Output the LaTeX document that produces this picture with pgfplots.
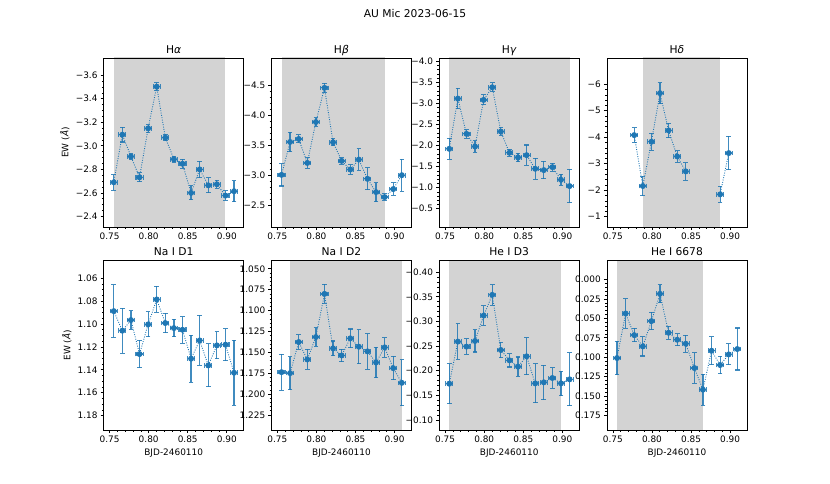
\documentclass[border=0pt]{standalone}
\usepackage{fontspec}
\setmainfont{DejaVu Sans}
\usepackage{pgfplots}
\pgfplotsset{compat=1.18}
\usepackage{pgfplotstable}

\definecolor{c0}{HTML}{1F77B4}
\definecolor{spangray}{HTML}{D3D3D3}
\newcommand\tl[1]{\mbox{#1}}
\newcommand\mn{\symbol{"2212}}

% EW time series, x = BJD-2460110
\pgfplotstableread{
x y ex ey
0.7553 -2.690 0.0045 0.066
0.7663 -3.094 0.0045 0.062
0.7773 -2.909 0.0045 0.025
0.7883 -2.732 0.0045 0.038
0.7993 -3.148 0.0045 0.032
0.8103 -3.502 0.0045 0.032
0.8213 -3.069 0.0045 0.027
0.8323 -2.886 0.0045 0.024
0.8433 -2.847 0.0045 0.039
0.8543 -2.600 0.0045 0.060
0.8653 -2.799 0.0045 0.069
0.8763 -2.664 0.0045 0.063
0.8873 -2.673 0.0045 0.034
0.8983 -2.577 0.0045 0.040
0.9093 -2.614 0.0045 0.088
}\halpha

\pgfplotstableread{
x y ex ey
0.7553 -3.005 0.0045 0.186
0.7663 -3.556 0.0045 0.164
0.7773 -3.606 0.0045 0.067
0.7883 -3.205 0.0045 0.086
0.7993 -3.889 0.0045 0.072
0.8103 -4.461 0.0045 0.078
0.8213 -3.550 0.0045 0.061
0.8323 -3.239 0.0045 0.056
0.8433 -3.094 0.0045 0.081
0.8543 -3.261 0.0045 0.178
0.8653 -2.939 0.0045 0.183
0.8763 -2.717 0.0045 0.158
0.8873 -2.633 0.0045 0.056
0.8983 -2.767 0.0045 0.106
0.9093 -3.000 0.0045 0.267
}\hbeta

\pgfplotstableread{
x y ex ey
0.7553 -1.922 0.0045 0.253
0.7663 -3.115 0.0045 0.245
0.7773 -2.278 0.0045 0.103
0.7883 -1.978 0.0045 0.134
0.7993 -3.084 0.0045 0.118
0.8103 -3.384 0.0045 0.111
0.8213 -2.333 0.0045 0.091
0.8323 -1.828 0.0045 0.087
0.8433 -1.717 0.0045 0.103
0.8543 -1.772 0.0045 0.241
0.8653 -1.448 0.0045 0.249
0.8763 -1.417 0.0045 0.205
0.8873 -1.488 0.0045 0.095
0.8983 -1.188 0.0045 0.126
0.9093 -1.038 0.0045 0.395
}\hgamma

\pgfplotstableread{
x y ex ey
0.7773 -4.078 0.0045 0.276
0.7883 -2.157 0.0045 0.364
0.7993 -3.827 0.0045 0.314
0.8103 -5.661 0.0045 0.402
0.8213 -4.254 0.0045 0.276
0.8323 -3.274 0.0045 0.220
0.8433 -2.709 0.0045 0.333
0.8543 nan 0.0045 0
0.8873 -1.843 0.0045 0.308
0.8983 -3.400 0.0045 0.628
}\hdelta

\pgfplotstableread{
x y ex ey
0.7553 1.0888 0.0045 0.0230
0.7663 1.1059 0.0045 0.0195
0.7773 1.0966 0.0045 0.0081
0.7883 1.1263 0.0045 0.0120
0.7993 1.1004 0.0045 0.0109
0.8103 1.0786 0.0045 0.0113
0.8213 1.0992 0.0045 0.0086
0.8323 1.1036 0.0045 0.0077
0.8433 1.1051 0.0045 0.0116
0.8543 1.1303 0.0045 0.0206
0.8653 1.1144 0.0045 0.0218
0.8763 1.1362 0.0045 0.0188
0.8873 1.1187 0.0045 0.0118
0.8983 1.1181 0.0045 0.0140
0.9093 1.1426 0.0045 0.0285
}\naone

\pgfplotstableread{
x y ex ey
0.7553 1.1738 0.0045 0.0216
0.7663 1.1750 0.0045 0.0198
0.7773 1.1377 0.0045 0.0086
0.7883 1.1586 0.0045 0.0120
0.7993 1.1317 0.0045 0.0110
0.8103 1.0800 0.0045 0.0114
0.8213 1.1453 0.0045 0.0088
0.8323 1.1538 0.0045 0.0074
0.8433 1.1333 0.0045 0.0112
0.8543 1.1433 0.0045 0.0206
0.8653 1.1489 0.0045 0.0214
0.8763 1.1622 0.0045 0.0182
0.8873 1.1441 0.0045 0.0116
0.8983 1.1690 0.0045 0.0140
0.9093 1.1866 0.0045 0.0276
}\natwo

\pgfplotstableread{
x y ex ey
0.7553 -0.1735 0.0045 0.0407
0.7663 -0.2590 0.0045 0.0363
0.7773 -0.2488 0.0045 0.0159
0.7883 -0.2603 0.0045 0.0224
0.7993 -0.3119 0.0045 0.0200
0.8103 -0.3539 0.0045 0.0207
0.8213 -0.2420 0.0045 0.0159
0.8323 -0.2210 0.0045 0.0136
0.8433 -0.2081 0.0045 0.0197
0.8543 -0.2291 0.0045 0.0376
0.8653 -0.1742 0.0045 0.0397
0.8763 -0.1763 0.0045 0.0349
0.8873 -0.1851 0.0045 0.0210
0.8983 -0.1742 0.0045 0.0247
0.9093 -0.1824 0.0045 0.0539
}\hethree

\pgfplotstableread{
x y ex ey
0.7553 0.1010 0.0045 0.0216
0.7663 0.0437 0.0045 0.0188
0.7773 0.0715 0.0045 0.0086
0.7883 0.0860 0.0045 0.0124
0.7993 0.0535 0.0045 0.0113
0.8103 0.0184 0.0045 0.0116
0.8213 0.0685 0.0045 0.0086
0.8323 0.0775 0.0045 0.0079
0.8433 0.0826 0.0045 0.0111
0.8543 0.1138 0.0045 0.0199
0.8653 0.1417 0.0045 0.0199
0.8763 0.0916 0.0045 0.0182
0.8873 0.1100 0.0045 0.0113
0.8983 0.0963 0.0045 0.0135
0.9093 0.0894 0.0045 0.0270
}\hesix

\pgfplotsset{
  panel/.style={
    scale only axis, width=156.69pt, height=189.42pt, anchor=north west,
    xmin=0.7425, xmax=0.9215, y dir=reverse,
    xtick={0.75,0.80,0.85,0.90},
    xticklabels={\tl{0.75},\tl{0.80},\tl{0.85},\tl{0.90}},
    minor x tick num=4,
    tick align=outside, xtick pos=bottom, ytick pos=left,
    major tick length=3.5pt, minor tick length=2pt,
    major tick style={black, line width=0.8pt},
    minor tick style={black, line width=0.6pt},
    axis line style={line width=0.8pt},
    tick label style={font=\fontsize{10}{12}\selectfont},
    label style={font=\fontsize{10}{12}\selectfont},
    title style={font=\fontsize{12}{14}\selectfont, anchor=base, yshift=-0.5pt},
    axis on top, unbounded coords=jump,
  },
  ewplot/.style={c0, line width=1pt, dash pattern=on 1pt off 1.65pt,
    mark=*, mark size=2.8pt, mark options={solid, fill=c0},
    error bars/.cd, x dir=both, x explicit, y dir=both, y explicit,
    error bar style={c0, line width=1.4pt, solid, opacity=0.85},
    error mark options={c0, rotate=90, line width=1.2pt, mark size=2.6pt, solid, opacity=0.85}},
  span/.style={draw=none, fill=spangray, forget plot},
}

\begin{document}
\begin{tikzpicture}
\useasboundingbox (0,0) rectangle (930pt,541.2pt);
\node[anchor=north, inner sep=0pt, font=\fontsize{12}{14}\selectfont] at (465pt,530.4pt) {AU Mic 2023-06-15};

% ---- top row
\begin{axis}[panel, at={(116.25pt,476.26pt)}, title={H\textit{α}}, ylabel={EW (\textit{Å})},
  ymin=-3.746, ymax=-2.31, minor y tick num=3,
  ytick={-3.6,-3.4,-3.2,-3.0,-2.8,-2.6,-2.4},
  yticklabels={\tl{\mn3.6},\tl{\mn3.4},\tl{\mn3.2},\tl{\mn3.0},\tl{\mn2.8},\tl{\mn2.6},\tl{\mn2.4}}]
\addplot[span] coordinates {(0.7553,-3.8) (0.8983,-3.8) (0.8983,-2.2) (0.7553,-2.2)};
\addplot[ewplot] table[x=x, y=y, x error=ex, y error=ey] {\halpha};
\end{axis}

\begin{axis}[panel, at={(304.22pt,476.26pt)}, title={H\textit{β}},
  ymin=-4.961, ymax=-2.133, minor y tick num=4,
  ytick={-4.5,-4.0,-3.5,-3.0,-2.5},
  yticklabels={\tl{\mn4.5},\tl{\mn4.0},\tl{\mn3.5},\tl{\mn3.0},\tl{\mn2.5}}]
\addplot[span] coordinates {(0.7553,-5.1) (0.8873,-5.1) (0.8873,-2.0) (0.7553,-2.0)};
\addplot[ewplot] table[x=x, y=y, x error=ex, y error=ey] {\hbeta};
\end{axis}

\begin{axis}[panel, at={(492.19pt,476.26pt)}, title={H\textit{γ}},
  ymin=-4.08, ymax=-0.066, minor y tick num=4,
  ytick={-4.0,-3.5,-3.0,-2.5,-2.0,-1.5,-1.0,-0.5},
  yticklabels={\tl{\mn4.0},\tl{\mn3.5},\tl{\mn3.0},\tl{\mn2.5},\tl{\mn2.0},\tl{\mn1.5},\tl{\mn1.0},\tl{\mn0.5}}]
\addplot[span] coordinates {(0.7553,-4.2) (0.9093,-4.2) (0.9093,0) (0.7553,0)};
\addplot[ewplot] table[x=x, y=y, x error=ex, y error=ey] {\hgamma};
\end{axis}

\begin{axis}[panel, at={(680.16pt,476.26pt)}, title={H\textit{δ}},
  ymin=-6.99, ymax=-0.61, minor y tick num=4,
  ytick={-6,-5,-4,-3,-2,-1},
  yticklabels={\tl{\mn6},\tl{\mn5},\tl{\mn4},\tl{\mn3},\tl{\mn2},\tl{\mn1}}]
\addplot[span] coordinates {(0.7883,-7.2) (0.8873,-7.2) (0.8873,-0.4) (0.7883,-0.4)};
\addplot[ewplot] table[x=x, y=y, x error=ex, y error=ey] {\hdelta};
\end{axis}

% ---- bottom row
\begin{axis}[panel, at={(116.25pt,248.93pt)}, title={Na I D1}, ylabel={EW (\textit{Å})}, xlabel={BJD-2460110},
  ymin=1.0449, ymax=1.1925, minor y tick num=3,
  ytick={1.06,1.08,1.10,1.12,1.14,1.16,1.18},
  yticklabels={\tl{1.06},\tl{1.08},\tl{1.10},\tl{1.12},\tl{1.14},\tl{1.16},\tl{1.18}}]
\addplot[ewplot] table[x=x, y=y, x error=ex, y error=ey] {\naone};
\end{axis}

\begin{axis}[panel, at={(304.22pt,248.93pt)}, title={Na I D2}, xlabel={BJD-2460110},
  ymin=1.0404, ymax=1.243, minor y tick num=4,
  ytick={1.050,1.075,1.100,1.125,1.150,1.175,1.200,1.225},
  yticklabels={\tl{1.050},\tl{1.075},\tl{1.100},\tl{1.125},\tl{1.150},\tl{1.175},\tl{1.200},\tl{1.225}}]
\addplot[span] coordinates {(0.7663,1.03) (0.9093,1.03) (0.9093,1.26) (0.7663,1.26)};
\addplot[ewplot] table[x=x, y=y, x error=ex, y error=ey] {\natwo};
\end{axis}

\begin{axis}[panel, at={(492.19pt,248.93pt)}, title={He I D3}, xlabel={BJD-2460110},
  ymin=-0.423, ymax=-0.0797, minor y tick num=4,
  ytick={-0.40,-0.35,-0.30,-0.25,-0.20,-0.15,-0.10},
  yticklabels={\tl{\mn0.40},\tl{\mn0.35},\tl{\mn0.30},\tl{\mn0.25},\tl{\mn0.20},\tl{\mn0.15},\tl{\mn0.10}}]
\addplot[span] coordinates {(0.7553,-0.44) (0.8983,-0.44) (0.8983,-0.06) (0.7553,-0.06)};
\addplot[ewplot] table[x=x, y=y, x error=ex, y error=ey] {\hethree};
\end{axis}

\begin{axis}[panel, at={(680.16pt,248.93pt)}, title={He I 6678}, xlabel={BJD-2460110},
  ymin=-0.024, ymax=0.1934, minor y tick num=4,
  ytick={0,0.025,0.05,0.075,0.1,0.125,0.15,0.175},
  yticklabels={\tl{0.000},\tl{0.025},\tl{0.050},\tl{0.075},\tl{0.100},\tl{0.125},\tl{0.150},\tl{0.175}}]
\addplot[span] coordinates {(0.7553,-0.04) (0.8653,-0.04) (0.8653,0.21) (0.7553,0.21)};
\addplot[ewplot] table[x=x, y=y, x error=ex, y error=ey] {\hesix};
\end{axis}
\end{tikzpicture}
\end{document}
